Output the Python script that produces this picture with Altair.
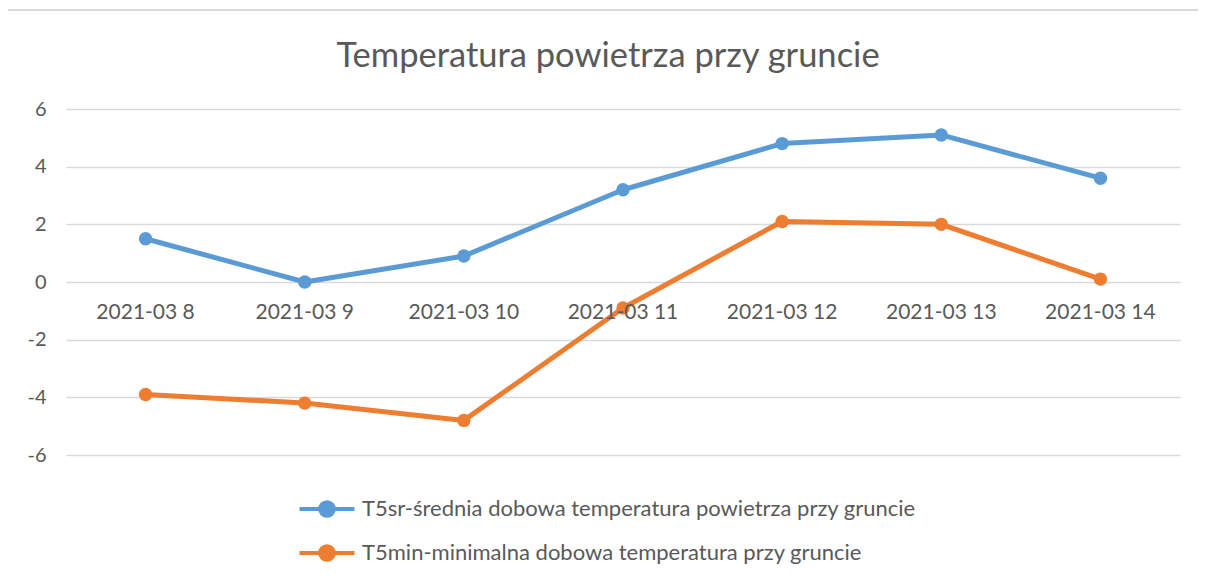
import altair as alt
import pandas as pd

dates = ["2021-03 8", "2021-03 9", "2021-03 10", "2021-03 11", "2021-03 12", "2021-03 13", "2021-03 14"]
t5sr = [1.5, 0.0, 0.9, 3.2, 4.8, 5.1, 3.6]
t5min = [-3.9, -4.2, -4.8, -0.9, 2.1, 2.0, 0.1]
series_names = [
    "T5sr-średnia dobowa temperatura powietrza przy gruncie",
    "T5min-minimalna dobowa temperatura przy gruncie",
]
colors = ["#5B9BD5", "#ED7D31"]
y_ticks = [-6, -4, -2, 0, 2, 4, 6]

rows = []
for d, v in zip(dates, t5sr):
    rows.append({"date": d, "value": v, "series": series_names[0]})
for d, v in zip(dates, t5min):
    rows.append({"date": d, "value": v, "series": series_names[1]})
df = pd.DataFrame(rows)
labels_df = pd.DataFrame({"date": dates, "zero": [0] * len(dates)})

FONT = "Lato"
GREY = "#595959"

x_enc = alt.X("date:N", sort=dates, scale=alt.Scale(paddingOuter=0.5), axis=None)
y_scale = alt.Scale(domain=[-6, 6], nice=False)

legend_path = "M-2,0L2,0M-0.5,0A0.5,0.5 0 1,0 0.5,0A0.5,0.5 0 1,0 -0.5,0Z"

color_enc = alt.Color(
    "series:N",
    sort=series_names,
    scale=alt.Scale(domain=series_names, range=colors),
    legend=alt.Legend(
        title=None,
        orient="none",
        legendX=245,
        legendY=384,
        direction="vertical",
        symbolType=legend_path,
        symbolSize=756,
        symbolStrokeWidth=4,
        labelFont=FONT,
        labelFontSize=22,
        labelColor=GREY,
        labelOffset=19,
        rowPadding=13,
        labelLimit=800,
    ),
)

frame = alt.Chart(labels_df).mark_rect(
    fill="transparent", stroke="#d9d9d9", strokeWidth=1.5, clip=False
).encode(
    x=alt.value(-59), x2=alt.value(1200), y=alt.value(-99), y2=alt.value(600)
)

lines = alt.Chart(df).mark_line(strokeWidth=5, strokeCap="round", strokeJoin="round").encode(
    x=x_enc,
    y=alt.Y(
        "value:Q",
        scale=y_scale,
        axis=alt.Axis(
            values=y_ticks,
            title=None,
            domain=False,
            ticks=False,
            grid=True,
            gridColor="#d9d9d9",
            gridWidth=1.5,
            labelFont=FONT,
            labelFontSize=20,
            labelColor=GREY,
            labelPadding=20,
            labelExpr="'' + datum.value",
        ),
    ),
    color=color_enc,
)

points = alt.Chart(df).mark_point(filled=True, size=180, opacity=1, shape="circle").encode(
    x=x_enc,
    y=alt.Y("value:Q", scale=y_scale),
    color=alt.Color("series:N", sort=series_names, scale=alt.Scale(domain=series_names, range=colors), legend=None),
)

xlabels = alt.Chart(labels_df).mark_text(
    font=FONT, fontSize=21, color=GREY, dy=31, baseline="middle"
).encode(
    x=x_enc,
    y=alt.Y("zero:Q", scale=y_scale),
    text="date:N",
)

chart = alt.layer(frame, lines, points, xlabels).properties(
    width=1114,
    height=346,
    padding={"left": 58, "top": 101, "right": 18, "bottom": 126},
    autosize=alt.AutoSizeParams(type="none"),
    title=alt.TitleParams(
        "Temperatura powietrza przy gruncie",
        font=FONT,
        fontSize=34.5,
        fontWeight="normal",
        color=GREY,
        frame="group",
        offset=-65,
        dx=-15,
    ),
).configure_view(stroke=None)

chart.save("out.html", embed_options={"renderer": "svg", "actions": False})
